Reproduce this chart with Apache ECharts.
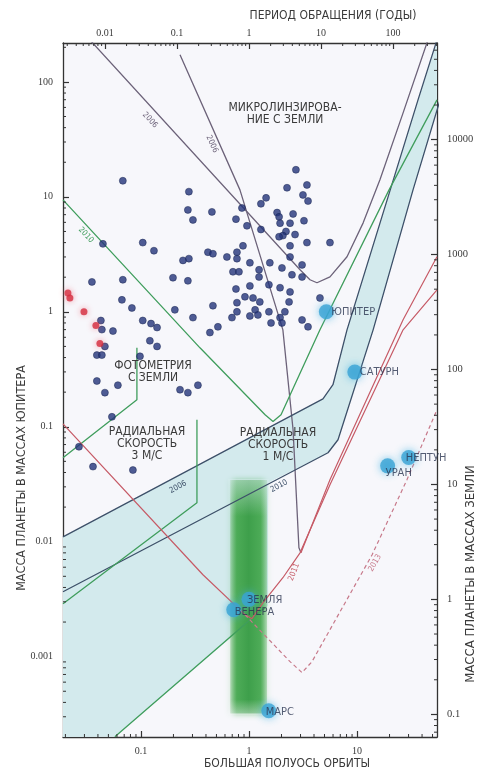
<!DOCTYPE html>
<html>
<head>
<meta charset="utf-8">
<script src="https://cdn.jsdelivr.net/npm/echarts@6/dist/echarts.min.js"></script>
<style>
  html, body { margin: 0; padding: 0; background: #ffffff; }
  #chart { width: 480px; height: 772px; }
</style>
</head>
<body>
<div id="chart"></div>
<script>
// ---- axis extents -------------------------------------------------------
const EARTH_PER_JUPITER = 317.8;
const semiMajorRange = [0.019, 55];      // AU
const massRange = [0.0002, 218];         // Jupiter masses

// ---- known exoplanets: [semi-major axis (AU), mass (M_J)] -----------------
const exoplanets = [
  [0.068,13.8],[0.278,11.1],[0.272,7.7],[0.303,6.3],[0.454,7.4],[0.758,6.4],
  [0.0445,3.9],[0.104,4.0],[0.132,3.4],[0.245,2.8],[0.278,2.9],[0.417,3.3],
  [0.464,3.2],[0.625,3.0],[0.774,3.3],[0.774,2.9],[0.711,2.23],[0.808,2.23],
  [0.0352,1.82],[0.068,1.9],[0.198,1.98],[0.272,1.86],[0.758,1.58],[0.0667,1.27],
  [0.0825,1.08],[0.206,1.04],[0.464,1.13],[0.774,1.2],[0.774,1.0],[0.303,0.89],
  [0.696,0.89],[0.104,0.84],[0.124,0.79],[0.141,0.73],[0.0551,0.68],[0.0426,0.84],
  [0.0435,0.70],[0.121,0.56],[0.141,0.50],[0.435,0.66],[0.516,0.74],[0.0464,0.50],
  [0.0391,0.42],[0.0435,0.42],[0.098,0.41],[0.0391,0.25],[0.0464,0.198],[0.0612,0.23],
  [0.23,0.21],[0.272,0.198],[0.337,0.23],[0.0539,0.122],[0.0267,0.067],[0.036,0.045],
  [0.0843,0.042],
  [2.72,17.2],[2.25,12.0],[3.44,12.7],[3.16,10.4],[3.52,9.2],[1.44,9.8],[1.29,8.7],
  [0.861,8.0],[1.82,7.3],[1.9,6.7],[2.56,7.1],[1.94,5.9],[2.4,5.9],[3.23,6.2],
  [0.958,5.6],[1.29,5.2],[2.2,5.0],[2.06,4.6],[1.9,4.5],[2.67,4.7],[3.44,4.0],
  [2.4,3.75],[5.62,4.0],[0.88,3.75],[2.4,3.0],[1.02,2.67],[1.56,2.67],[2.02,2.41],
  [3.1,2.56],[1.24,2.32],[1.24,2.01],[2.5,2.1],[3.1,2.01],[1.53,1.72],[1.94,1.62],
  [1.02,1.68],[2.4,1.49],[0.918,1.35],[1.09,1.32],[1.26,1.22],[4.54,1.32],[2.35,1.22],
  [1.53,1.0],[1.14,1.04],[1.21,0.94],[2.15,1.0],[1.02,0.92],[1.94,0.89],[2.02,0.80],
  [1.6,0.80],[3.1,0.85],[3.52,0.74]
];
const transitingPlanets = [[0.0211,1.46],[0.022,1.32],[0.0297,1.0],[0.0383,0.76],[0.0417,0.53]];

// ---- solar-system planets ------------------------------------------------
const planetNames = ['ЮПИТЕР', 'САТУРН', 'УРАН', 'НЕПТУН', 'ЗЕМЛЯ', 'ВЕНЕРА', 'МАРС'];
const planetA     = [5.2, 9.54, 19.2, 30.1, 1.0, 0.723, 1.524];
const planetMass  = [1.0, 0.299, 0.0457, 0.054, 0.00315, 0.00256, 0.000338];

// ---- habitable zone: [a_min, a_max], [M_min, M_max] (M_J) ----------------
const habitableA = [0.67, 1.47];
const habitableM = [0.00032, 0.0345];

// ---- detection limits: [a (AU), M (M_J)] ----------------------------------
const microlensing2006 = [[0.0272,289],[2.97,2.32],[3.67,1.90],[4.26,1.79],[5.62,2.01],
  [8.08,3.01],[11.4,5.94],[16.3,14.1],[26.7,53.8],[49.5,295]];
const microlensing2006b = [[0.23,172],[0.825,11.5],[2.06,0.697],[2.56,0.0942],[2.90,0.00887],[3.03,0.0080]];
const radialVelocity2006 = [[0.019,0.0110],[4.84,0.175],[5.99,0.232],[8.08,0.697],[36.7,69.7],[55,232]];
const radialVelocity2010 = [[0.019,0.00367],[5.39,0.0594],[6.67,0.0771],[14.1,0.697],[33.0,11.5],[58.7,69.7]];
const photometrySpace2010 = [[0.019,9.42],[0.352,0.486],[1.41,0.127],[1.67,0.111],[1.98,0.127],
  [4.54,0.697],[19.8,11.5],[55,69.7]];
const photometryGround = [[0.019,0.0537],[0.0918,0.172],[0.0918,0.486]];
const rv3Boundary = [[0.019,0.00289],[0.330,0.0218],[0.330,0.115]];
const photometryLow = [[0.0574,0.000201],[0.958,0.00198],[1.41,0.00267]];
const astrometry2011 = [[0.019,0.106],[0.375,0.00516],[0.918,0.00232],[1.066,0.00214],[1.35,0.00295],
  [2.06,0.00486],[2.97,0.0080],[5.62,0.0313],[26.7,0.697],[55,1.55]];
const astrometry2011b = [[3.03,0.0080],[5.62,0.0346],[26.7,0.852],[55,3.01]];
const astrometry2013 = [[0.918,0.00232],[2.40,0.000905],[3.10,0.000726],[3.83,0.000905],
  [13.8,0.0077],[29.0,0.0346],[55,0.1406]];
const rvBand = [[0.019,0.0110],[4.84,0.175],[5.99,0.232],[8.08,0.697],[36.7,69.7],[55,218],
  [55,57.1],[33.0,11.5],[14.1,0.697],[6.67,0.0771],[5.39,0.0594],[1.50,0.0326],[1.50,0.00277],
  [0.0574,0.000201],[0.019,0.0002]];

// ---- minor tick positions (2..9 x 10^k) ---------------------------------
function minorTicks(lo, hi) {
  const out = [];
  for (let k = -5; k <= 6; k++) {
    for (let m = 2; m <= 9; m++) {
      const v = m * Math.pow(10, k);
      if (v > lo && v < hi) out.push([v, 1]);
    }
  }
  return out;
}
const periodRange = [Math.pow(semiMajorRange[0], 1.5), Math.pow(semiMajorRange[1], 1.5)];
const earthRange = [massRange[0] * EARTH_PER_JUPITER, massRange[1] * EARTH_PER_JUPITER];

function fmt(v) {
  const l = Math.log10(v);
  if (Math.abs(l - Math.round(l)) > 1e-6) return '';
  return String(parseFloat(v.toPrecision(6)));
}

const SERIF = '"Liberation Serif", "DejaVu Serif", serif';
const NARROW = '"Liberation Sans Narrow", "DejaVu Sans Condensed", "Liberation Sans", sans-serif';
const TEXT = '#3a3a3a';

function axisCommon(pos) {
  return {
    type: 'log', logBase: 10, position: pos,
    axisLine: { show: true, onZero: false, lineStyle: { color: '#333', width: 1.3 } },
    axisTick: { show: true, inside: true, length: 6, lineStyle: { color: '#333', width: 1.2 } },
    splitLine: { show: false }
  };
}

function tickSeries(axis, values, len) {
  return {
    type: 'custom', xAxisIndex: axis.x, yAxisIndex: axis.y, silent: true, clip: false, z: 10,
    data: values,
    renderItem: function (params, api) {
      const v = api.value(0);
      let p, q;
      if (axis.side === 'bottom') { p = api.coord([v, massRange[0]]); q = [p[0], p[1] - len]; }
      if (axis.side === 'top')    { p = api.coord([v, massRange[1]]); q = [p[0], p[1] + len]; }
      if (axis.side === 'left')   { p = api.coord([semiMajorRange[0], v]); q = [p[0] + len, p[1]]; }
      if (axis.side === 'right')  { p = api.coord([semiMajorRange[1], v]); q = [p[0] - len, p[1]]; }
      return { type: 'line', shape: { x1: p[0], y1: p[1], x2: q[0], y2: q[1] },
               style: { stroke: '#333', lineWidth: 1 } };
    }
  };
}

function limitLine(data, color, width, z, dashed) {
  return {
    type: 'line', data: data, symbol: 'none', silent: true, z: z || 3, clip: true,
    lineStyle: { color: color, width: width, type: dashed ? [4, 3] : 'solid' }
  };
}

function label(x, y, text, size, color, rotation) {
  return { type: 'text', x: x, y: y, z: 100, rotation: rotation || 0,
           style: { text: text, font: size + 'px ' + NARROW, fill: color, align: 'center', verticalAlign: 'middle', lineHeight: size } };
}

const ML_COLOR = '#6c6279';
const RV_COLOR = '#3d5069';
const GREEN = '#3f9d5c';
const RED = '#c65a66';
const PINK = '#c7798a';

const planetLabelOffset = {
  'ЮПИТЕР': [5, 0], 'САТУРН': [5, 0], 'УРАН': [-2, 7], 'НЕПТУН': [-3, 1],
  'ЗЕМЛЯ': [-2, 1], 'ВЕНЕРА': [1, 2], 'МАРС': [-3, 1]
};

const tickLabel = function (margin, size) {
  return { formatter: fmt, fontFamily: SERIF, fontSize: size || 10, color: TEXT, margin: margin,
           showMinLabel: false, showMaxLabel: false };
};

const option = {
  animation: false,
  backgroundColor: '#ffffff',
  grid: { left: 63, top: 43, width: 374, height: 694, show: true, backgroundColor: '#f7f7fb', borderWidth: 0 },
  xAxis: [
    Object.assign(axisCommon('bottom'), { min: semiMajorRange[0], max: semiMajorRange[1], axisLabel: tickLabel(9) }),
    Object.assign(axisCommon('top'), { min: periodRange[0], max: periodRange[1], axisLabel: tickLabel(5) })
  ],
  yAxis: [
    Object.assign(axisCommon('left'), { min: massRange[0], max: massRange[1], axisLabel: tickLabel(10) }),
    Object.assign(axisCommon('right'), { min: earthRange[0], max: earthRange[1], axisLabel: tickLabel(10, 10.5) })
  ],
  series: [
    // region reachable with 1 m/s radial velocities
    {
      type: 'custom', silent: true, z: 1, data: [[1, 1]],
      renderItem: function (params, api) {
        const pts = rvBand.map(function (d) { return api.coord(d); });
        return { type: 'polygon', shape: { points: pts }, style: { fill: '#d3eaed' } };
      }
    },
    // habitable zone: soft-edged column, fading in at the top
    {
      type: 'custom', silent: true, z: 2, data: [[1, 1]],
      renderItem: function (params, api) {
        const p0 = api.coord([habitableA[0], habitableM[1]]);
        const p1 = api.coord([habitableA[1], habitableM[0]]);
        const w = p1[0] - p0[0], h = p1[1] - p0[1];
        return {
          type: 'group',
          children: [
            {
              type: 'rect',
              shape: { x: p0[0], y: p0[1], width: w, height: h },
              style: {
                fill: new echarts.graphic.LinearGradient(0, 0, 1, 0, [
                  { offset: 0, color: 'rgba(90,180,95,0.35)' },
                  { offset: 0.18, color: 'rgba(70,168,80,0.9)' },
                  { offset: 0.5, color: '#3e9f4b' },
                  { offset: 0.82, color: 'rgba(70,168,80,0.9)' },
                  { offset: 1, color: 'rgba(90,180,95,0.35)' }
                ]),
                shadowBlur: 6, shadowColor: 'rgba(70,170,80,0.6)'
              }
            },
            {
              type: 'rect',
              shape: { x: p0[0] - 2, y: p0[1] - 1, width: w + 4, height: h * 0.16 },
              style: {
                fill: new echarts.graphic.LinearGradient(0, 0, 0, 1, [
                  { offset: 0, color: 'rgba(215,236,238,0.55)' },
                  { offset: 1, color: 'rgba(215,236,238,0)' }
                ])
              }
            },
            {
              type: 'rect',
              shape: { x: p0[0] - 2, y: p0[1] + h * 0.94, width: w + 4, height: h * 0.06 + 1 },
              style: {
                fill: new echarts.graphic.LinearGradient(0, 0, 0, 1, [
                  { offset: 0, color: 'rgba(247,247,251,0)' },
                  { offset: 1, color: 'rgba(247,247,251,0.45)' }
                ])
              }
            }
          ]
        };
      }
    },
    limitLine(microlensing2006, ML_COLOR, 1.3),
    limitLine(microlensing2006b, ML_COLOR, 1.3),
    limitLine(radialVelocity2006, RV_COLOR, 1.3),
    limitLine(radialVelocity2010, RV_COLOR, 1.3),
    limitLine(photometrySpace2010, GREEN, 1.3),
    limitLine(photometryGround, GREEN, 1.3),
    limitLine(rv3Boundary, GREEN, 1.3),
    limitLine(photometryLow, GREEN, 1.3),
    limitLine(astrometry2011, RED, 1.2),
    limitLine(astrometry2011b, RED, 1.2),
    limitLine(astrometry2013, PINK, 1.2, 3, true),
    // exoplanets
    {
      type: 'scatter', data: exoplanets, symbolSize: 7, z: 6, silent: true,
      itemStyle: { color: '#23337a', borderColor: '#18234f', borderWidth: 0.6 }
    },
    {
      type: 'scatter', data: transitingPlanets, symbolSize: 7, z: 6, silent: true,
      itemStyle: { color: '#d42a3c', shadowBlur: 6, shadowColor: 'rgba(235,80,100,0.7)' }
    },
    // solar-system planets
    {
      type: 'scatter', z: 7, silent: true, symbolSize: 15,
      data: planetNames.map(function (n, i) { return { name: n, value: [planetA[i], planetMass[i]] }; }),
      itemStyle: { color: '#38a3d4', shadowBlur: 8, shadowColor: 'rgba(70,180,225,0.9)' },
      label: {
        show: true, fontFamily: NARROW, fontSize: 11, color: '#2a3550',
        formatter: function (p) { return p.name; },
        position: 'right', distance: 0
      },
      labelLayout: function (params) {
        const off = planetLabelOffset[params.text] || [0, 0];
        return { x: params.rect.x + params.rect.width / 2 + off[0], y: params.rect.y + params.rect.height / 2 + off[1],
                 align: 'left', verticalAlign: 'middle' };
      }
    },
    tickSeries({ x: 0, y: 0, side: 'bottom' }, minorTicks(semiMajorRange[0], semiMajorRange[1]), 3),
    tickSeries({ x: 1, y: 0, side: 'top' }, minorTicks(periodRange[0], periodRange[1]), 3),
    tickSeries({ x: 0, y: 0, side: 'left' }, minorTicks(massRange[0], massRange[1]), 3),
    tickSeries({ x: 0, y: 1, side: 'right' }, minorTicks(earthRange[0], earthRange[1]), 3)
  ],
  graphic: [
    label(333, 16, 'ПЕРИОД ОБРАЩЕНИЯ (ГОДЫ)', 12, TEXT),
    label(287, 764, 'БОЛЬШАЯ ПОЛУОСЬ ОРБИТЫ', 12, TEXT),
    label(22, 478, 'МАССА ПЛАНЕТЫ В МАССАХ ЮПИТЕРА', 12.5, TEXT, Math.PI / 2),
    label(471, 574, 'МАССА ПЛАНЕТЫ В МАССАХ ЗЕМЛИ', 13, TEXT, Math.PI / 2),

    label(285, 114, 'МИКРОЛИНЗИРОВА-\nНИЕ С ЗЕМЛИ', 12, TEXT),
    label(153, 372, 'ФОТОМЕТРИЯ\nС ЗЕМЛИ', 12, TEXT),
    label(147, 444, 'РАДИАЛЬНАЯ\nСКОРОСТЬ\n3 М/С', 12, TEXT),
    label(278, 445, 'РАДИАЛЬНАЯ\nСКОРОСТЬ\n1 М/С', 12, TEXT),

    label(150, 120, '2006', 8, ML_COLOR, -0.83),
    label(212, 144, '2006', 8, ML_COLOR, -1.15),
    label(86, 235, '2010', 8, GREEN, -0.82),
    label(178, 487, '2006', 8, RV_COLOR, 0.49),
    label(279, 486, '2010', 8, RV_COLOR, 0.49),
    label(294, 572, '2011', 8, RED, 1.2),
    label(375, 563, '2013', 8, PINK, 1.05)
  ]
};

const chart = echarts.init(document.getElementById('chart'));
chart.setOption(option);
</script>
</body>
</html>
